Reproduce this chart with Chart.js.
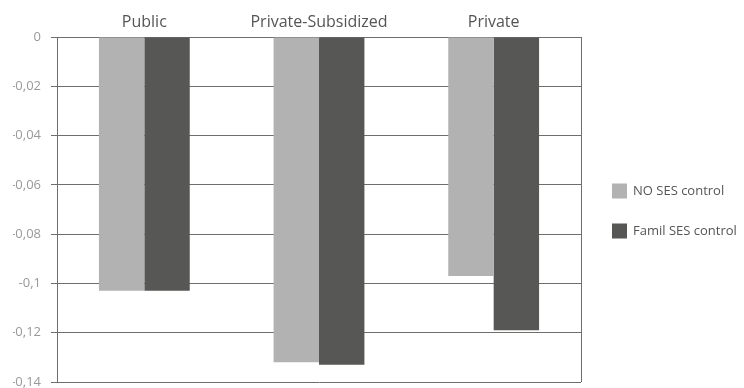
<!DOCTYPE html>
<html>
<head>
<meta charset="utf-8">
<script src="https://cdn.jsdelivr.net/npm/chart.js@4/dist/chart.umd.min.js"></script>
<style>
  html, body { margin: 0; padding: 0; background: #fff; }
  #wrap { width: 744px; height: 388px; position: relative; }
</style>
</head>
<body>
<div id="wrap"><canvas id="c"></canvas></div>
<script>
// School type categories
const categories = ['Public', 'Private-Subsidized', 'Private'];

// Estimated coefficients per model
const noSesControl = [-0.103, -0.132, -0.097];
const familSesControl = [-0.103, -0.133, -0.119];

// Y axis ticks and their printed labels (decimal comma)
const yTickValues = [0, -0.02, -0.04, -0.06, -0.08, -0.1, -0.12, -0.14];
const yTickLabels = ['0', '-0,02', '-0,04', '-0,06', '-0,08', '-0,1', '-0,12', '-0,14'];

const gridColor = '#6e6e6e';
const fontFamily = 'Open Sans';

// Closes the plot frame on its right side
const rightFrame = {
  id: 'rightFrame',
  afterDatasetsDraw(chart) {
    const { ctx, chartArea } = chart;
    ctx.save();
    ctx.strokeStyle = gridColor;
    ctx.lineWidth = 1;
    ctx.beginPath();
    const x = Math.round(chartArea.right) + 0.5;
    ctx.moveTo(x, chartArea.top);
    ctx.lineTo(x, chartArea.bottom);
    ctx.stroke();
    ctx.restore();
  }
};

// Legend drawn beside the plot, one square swatch per series
const sideLegend = {
  id: 'sideLegend',
  afterDraw(chart) {
    const { ctx, chartArea } = chart;
    const box = 15;
    const x0 = chartArea.right + 31;
    const firstY = chartArea.top + 154;
    const step = 40;
    ctx.save();
    ctx.font = '13px "' + fontFamily + '"';
    ctx.textBaseline = 'middle';
    ctx.textAlign = 'left';
    chart.data.datasets.forEach((ds, i) => {
      const cy = firstY + i * step;
      ctx.fillStyle = ds.backgroundColor;
      ctx.fillRect(x0, cy - box / 2, box, box);
      ctx.fillStyle = '#555';
      ctx.fillText(ds.label, x0 + box + 6, cy);
    });
    ctx.restore();
  }
};

new Chart(document.getElementById('c'), {
  type: 'bar',
  data: {
    labels: categories,
    datasets: [
      { label: 'NO SES control', data: noSesControl, backgroundColor: '#b2b2b2' },
      { label: 'Famil SES control', data: familSesControl, backgroundColor: '#575756' }
    ]
  },
  options: {
    responsive: true,
    maintainAspectRatio: false,
    animation: false,
    layout: { padding: { left: 13, right: 163, top: 12, bottom: 6 } },
    datasets: {
      bar: { categoryPercentage: 0.52, barPercentage: 1.0 }
    },
    scales: {
      x: {
        position: 'top',
        grid: { display: false, drawTicks: false },
        border: { display: false },
        ticks: { color: '#555', font: { family: fontFamily, size: 16 }, padding: 5 },
        afterFit(scale) {
          scale.height = 25;
          scale.paddingLeft = 0;
          scale.paddingRight = 0;
        }
      },
      y: {
        min: -0.14,
        max: 0,
        afterBuildTicks(scale) {
          scale.ticks = yTickValues.map(v => ({ value: v }));
        },
        grid: { color: gridColor, tickLength: 6, lineWidth: 1 },
        border: { color: gridColor },
        ticks: {
          color: '#999',
          font: { family: fontFamily, size: 13 },
          padding: 10,
          callback(value) {
            const i = yTickValues.findIndex(v => Math.abs(v - value) < 1e-9);
            return i >= 0 ? yTickLabels[i] : '';
          }
        },
        afterFit(scale) {
          scale.width = 44;
          scale.paddingTop = 0;
          scale.paddingBottom = 0;
        }
      }
    },
    plugins: {
      legend: { display: false },
      tooltip: { enabled: false }
    }
  },
  plugins: [rightFrame, sideLegend]
});
</script>
</body>
</html>
